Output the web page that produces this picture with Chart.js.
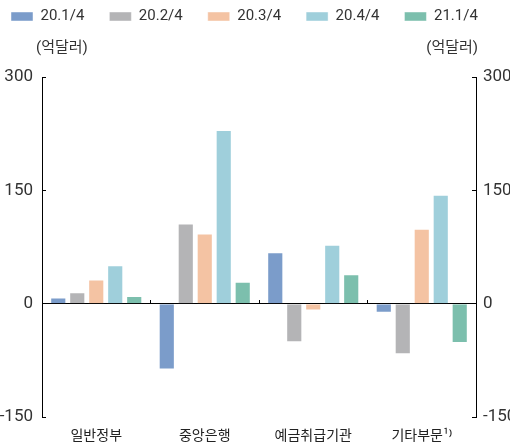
<!DOCTYPE html>
<html>
<head>
<meta charset="utf-8">
<script src="https://cdn.jsdelivr.net/npm/chart.js@4/dist/chart.umd.min.js"></script>
<style>
  html, body { margin: 0; padding: 0; background: #ffffff; }
  canvas { display: block; }
</style>
</head>
<body>
<canvas id="c" width="510" height="446"></canvas>
<script>
// ---- data ----
const categories = ['일반정부', '중앙은행', '예금취급기관', '기타부문¹⁾'];
const seriesNames = ['20.1/4', '20.2/4', '20.3/4', '20.4/4', '21.1/4'];
const q20_1 = [8, -87, 68, -12];
const q20_2 = [15, 106, -51, -67];
const q20_3 = [32, 93, -9, 99];
const q20_4 = [51, 230, 78, 144];
const q21_1 = [10, 29, 39, -52];
const yTicks = [-150, 0, 150, 300];
const unitLabel = '(억달러)';

const colors = ['#7b9cca', '#b4b4b6', '#f4c3a3', '#9fcfdb', '#7cbfad'];
const seriesValues = [q20_1, q20_2, q20_3, q20_4, q21_1];

const numFont = { family: "'Liberation Sans Narrow', 'Roboto', sans-serif", size: 17 };
const korFont = "'Noto Sans CJK KR', 'Roboto', sans-serif";

// layout box for the unit labels between legend and plot
const unitPlugin = {
  id: 'unitBox',
  beforeInit(chart) {
    const box = {
      position: 'top',
      weight: 0,
      fullSize: true,
      options: {},
      width: 0, height: 0, left: 0, top: 0, right: 0, bottom: 0,
      isHorizontal() { return true; },
      update(maxWidth) { this.width = maxWidth; this.height = 43; this.maxWidth = maxWidth; },
      draw() {
        const ctx = chart.ctx;
        const ca = chart.chartArea;
        ctx.save();
        ctx.font = "15px 'Roboto', 'Noto Sans CJK KR', sans-serif";
        ctx.fillStyle = '#333';
        ctx.textBaseline = 'middle';
        const y = this.top + 14;
        ctx.textAlign = 'left';
        ctx.fillText(unitLabel, ca.left - 6, y);
        ctx.textAlign = 'right';
        ctx.fillText(unitLabel, ca.right + 2, y);
        ctx.restore();
      }
    };
    Chart.layouts.addBox(chart, box);
  }
};

const datasets = seriesNames.map((name, i) => ({
  label: name,
  data: seriesValues[i],
  backgroundColor: colors[i],
  borderColor: 'rgba(255,255,255,0.45)',
  borderWidth: 1,
  categoryPercentage: 0.875,
  barPercentage: 0.85,
  xAxisID: 'x',
  yAxisID: 'y'
}));

const yCommon = {
  type: 'linear',
  min: yTicks[0],
  max: yTicks[yTicks.length - 1],
  afterBuildTicks(scale) { scale.ticks = yTicks.map(v => ({ value: v })); },
  grid: { drawOnChartArea: false, drawTicks: true, tickLength: -4, tickColor: '#000', color: '#000', lineWidth: 1 },
  border: { display: true, color: '#000', width: 1 },
};

new Chart(document.getElementById('c'), {
  type: 'bar',
  data: { labels: categories, datasets },
  plugins: [unitPlugin],
  options: {
    responsive: false,
    animation: false,
    devicePixelRatio: 1,
    layout: { padding: { left: -14, top: -16, right: 0, bottom: 0 } },
    plugins: {
      legend: {
        position: 'top',
        align: 'start',
        labels: {
          boxWidth: 22,
          boxHeight: 9,
          padding: 25,
          color: '#333',
          font: { family: "'Roboto', sans-serif", size: 15 }
        }
      },
      tooltip: { enabled: false }
    },
    scales: {
      x: {
        type: 'category',
        position: { y: 0 },
        offset: true,
        grid: { offset: true, drawOnChartArea: false, drawTicks: true, tickLength: -4, tickColor: '#000', color: '#000' },
        border: { display: true, color: '#000', width: 1 },
        ticks: { display: false }
      },
      xl: {
        type: 'category',
        position: 'bottom',
        offset: true,
        grid: { display: false, drawTicks: false },
        border: { display: false },
        ticks: { color: '#222', padding: 9, font: { family: korFont, size: 14 }, maxRotation: 0, autoSkip: false },
        afterFit(scale) { scale.height = 29; }
      },
      y: Object.assign({}, yCommon, {
        position: 'left',
        ticks: { color: '#333', padding: 13, font: numFont },
        afterFit(scale) { scale.width = 56; }
      }),
      y2: Object.assign({}, yCommon, {
        position: 'right',
        ticks: { color: '#333', padding: 11, font: numFont },
        afterFit(scale) { scale.width = 34; }
      })
    }
  }
});
</script>
</body>
</html>
